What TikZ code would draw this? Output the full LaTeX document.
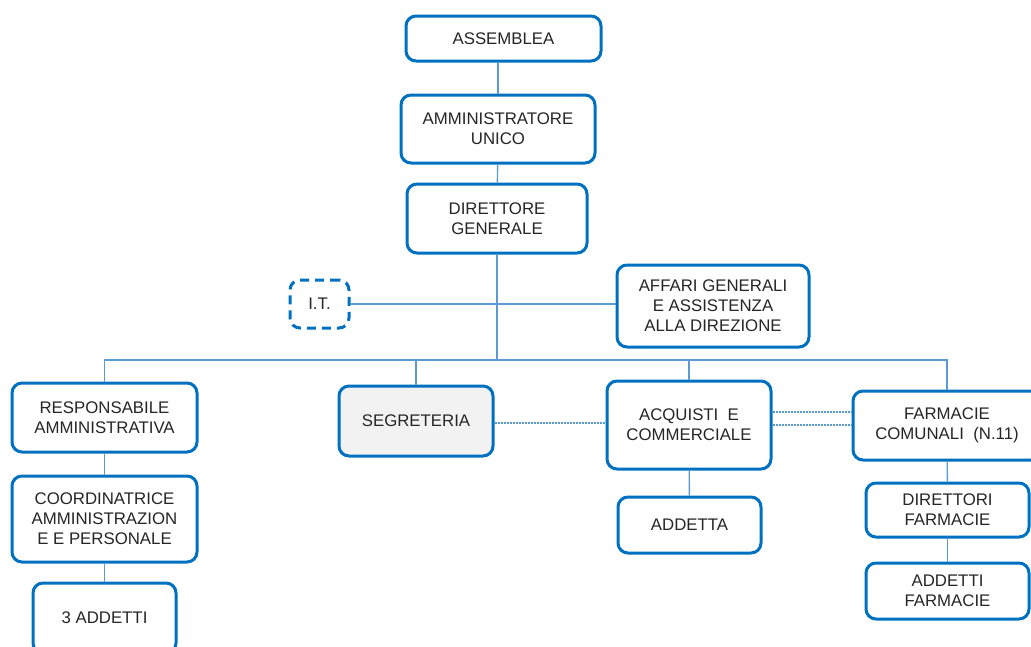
\documentclass[tikz,border=0pt]{standalone}
\usepackage{fontspec}
\setmainfont{Liberation Sans}
\definecolor{boxblue}{HTML}{0070C0}
\definecolor{linkblue}{HTML}{5B9BD5}
\definecolor{txt}{HTML}{262626}
\definecolor{segfill}{HTML}{F2F2F2}
\begin{document}
\begin{tikzpicture}[x=1pt,y=-1pt,
  box/.style={draw=boxblue, line width=3pt, rounded corners=10pt, fill=white,
    align=center, text=txt, font=\fontsize{16.8}{20}\selectfont, inner sep=0pt},
  link/.style={draw=linkblue, line width=1.4pt},
  dlink/.style={draw=linkblue, line width=1.2pt, dash pattern=on 2pt off 1pt}]
\useasboundingbox (0,0) rectangle (1031,646);
\node[box, minimum width=195pt, minimum height=45pt] (ass) at (503.5,38.5) {ASSEMBLEA};
\node[box, minimum width=194pt, minimum height=68pt] (amm) at (498,129) {AMMINISTRATORE\\UNICO};
\node[box, minimum width=180pt, minimum height=69pt] (dir) at (497,218.5) {DIRETTORE\\GENERALE};
\node[box, dashed, dash pattern=on 9pt off 6pt, minimum width=59pt, minimum height=48pt] (it) at (319.5,304) {I.T.};
\node[box, minimum width=192pt, minimum height=82pt] (aff) at (713,306) {AFFARI GENERALI\\E ASSISTENZA\\ALLA DIREZIONE};
\node[box, minimum width=185pt, minimum height=69pt] (resp) at (104.5,417.5) {RESPONSABILE\\AMMINISTRATIVA};
\node[box, fill=segfill, minimum width=154pt, minimum height=70pt] (seg) at (416,421) {SEGRETERIA};
\node[box, minimum width=164pt, minimum height=88pt] (acq) at (689,425) {ACQUISTI\ \ E\\COMMERCIALE};
\node[box, minimum width=188pt, minimum height=69pt] (farm) at (947,425.5) {FARMACIE\\COMUNALI\ \ (N.11)};
\node[box, minimum width=185pt, minimum height=86pt] (coord) at (104.5,519) {COORDINATRICE\\AMMINISTRAZION\\E E PERSONALE};
\node[box, minimum width=143pt, minimum height=70pt] (add3) at (104.5,618) {3 ADDETTI};
\node[box, minimum width=143pt, minimum height=56pt] (addetta) at (689.5,525) {ADDETTA};
\node[box, minimum width=163pt, minimum height=54pt] (dirf) at (947.5,510) {DIRETTORI\\FARMACIE};
\node[box, minimum width=163pt, minimum height=56pt] (addf) at (947.5,591) {ADDETTI\\FARMACIE};
\coordinate (bus) at (497,360);
\draw[link] (ass.south-|amm.north) -- (amm.north);
\draw[link] (amm) -- (dir);
\draw[link] (dir) -- (bus);
\draw[link] (it.east) -- (aff.west|-it.east);
\draw[link] (resp.north) |- (bus) -| (farm.north);
\draw[link] (seg.north) -- (seg.north|-bus);
\draw[link] (acq.north) -- (acq.north|-bus);
\draw[link] (resp) -- (coord);
\draw[link] (coord) -- (add3);
\draw[link] (acq) -- (addetta);
\draw[link] (farm) -- (dirf);
\draw[link] (dirf) -- (addf);
\draw[dlink] ([yshift=-2pt]seg.east) -- ([yshift=-2pt]seg.east-|acq.west);
\draw[dlink] ([yshift=13pt]acq.east) -- ([yshift=13pt]acq.east-|farm.west);
\draw[dlink] (acq.east) -- (acq.east-|farm.west);
\end{tikzpicture}
\end{document}
